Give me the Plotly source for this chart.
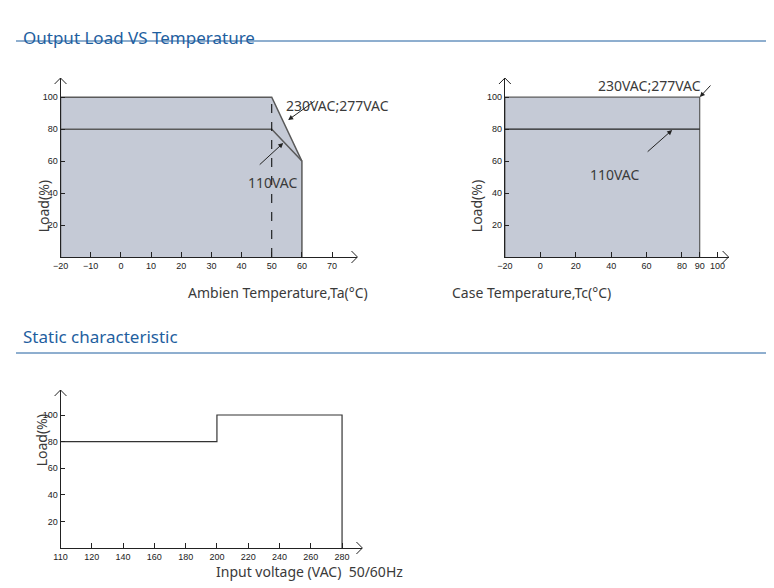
import plotly.graph_objects as go

# Output load vs ambient temperature (chart 1)
ta_temp = [-20, -20, 50, 60, 60]
ta_load_230 = [0, 100, 100, 60, 0]
ta_110_temp = [-20, 50, 60]
ta_110_load = [80, 80, 60]

# Output load vs case temperature (chart 2)
tc_temp = [-20, -20, 90, 90]
tc_load_230 = [0, 100, 100, 0]
tc_110_temp = [-20, 90]
tc_110_load = [80, 80]

# Static characteristic (chart 3); axis origin is the 110VAC point
vin = [100, 200, 200, 280, 280]
vin_load = [80, 80, 100, 100, 0]
vin_ticks = [100, 120, 140, 160, 180, 200, 220, 240, 260, 280]
vin_ticktext = ["110", "120", "140", "160", "180", "200", "220", "240", "260", "280"]

ta_ticks = [-20, -10, 0, 10, 20, 30, 40, 50, 60, 70]
tc_ticks = [-20, 0, 20, 40, 60, 80, 90, 100]
load_ticks = [20, 40, 60, 80, 100]

W, H = 774, 588
def px(x): return x / W
def py(y): return 1 - y / H

FILL = "#c5cad6"
LINE = "#5a5a5a"
BLUE = "#1f5f9f"
TXT = "#3a3a3a"

fig = go.Figure()
fig.add_trace(go.Scatter(x=ta_temp, y=ta_load_230, fill="toself", fillcolor=FILL,
                         line=dict(color=LINE, width=1.5), mode="lines", xaxis="x", yaxis="y"))
fig.add_trace(go.Scatter(x=ta_110_temp, y=ta_110_load, line=dict(color=LINE, width=1.5),
                         mode="lines", xaxis="x", yaxis="y"))
fig.add_trace(go.Scatter(x=[50, 50], y=[0, 100], line=dict(color="black", width=1, dash="dash"),
                         mode="lines", xaxis="x", yaxis="y"))
fig.add_trace(go.Scatter(x=tc_temp, y=tc_load_230, fill="toself", fillcolor=FILL,
                         line=dict(color=LINE, width=1.2), mode="lines", xaxis="x2", yaxis="y2"))
fig.add_trace(go.Scatter(x=tc_110_temp, y=tc_110_load, line=dict(color="#222", width=1.2),
                         mode="lines", xaxis="x2", yaxis="y2"))
fig.add_trace(go.Scatter(x=vin, y=vin_load, line=dict(color="#333", width=1.2),
                         mode="lines", xaxis="x3", yaxis="y3"))

tickfont = dict(family="Liberation Sans", size=9, color="#222")
def xax(dom, rng, ticks, anchor, text=None):
    d = dict(domain=dom, range=rng, tickvals=ticks, showgrid=False, zeroline=False,
             showline=True, linecolor="#222", linewidth=1, ticks="inside", ticklen=5,
             tickcolor="#222", tickfont=tickfont, anchor=anchor, fixedrange=True)
    if text:
        d["ticktext"] = text
    return d
def yax(dom, rng, anchor):
    return dict(domain=dom, range=rng, tickvals=load_ticks, showgrid=False, zeroline=False,
                showline=True, linecolor="#222", linewidth=1, ticks="inside", ticklen=4,
                tickcolor="#222", tickfont=tickfont, anchor=anchor, fixedrange=True)

fig.update_layout(
    width=W, height=H, margin=dict(l=0, r=0, t=0, b=0), showlegend=False,
    plot_bgcolor="rgba(0,0,0,0)", paper_bgcolor="white",
    xaxis=xax([px(45), px(345)], [-20, 78.4], ta_ticks, "y"),
    yaxis=yax([py(249), py(70)], [0, 112], "x"),
    xaxis2=xax([px(494), px(720)], [-20, 106.3], tc_ticks, "y2"),
    yaxis2=yax([py(249), py(70)], [0, 112], "x2"),
    xaxis3=xax([px(45), px(350)], [100, 293], vin_ticks, "y3", vin_ticktext),
    yaxis3=yax([py(540), py(382)], [0, 118.8], "x3"),
)

shapes = []
def chevron(x, y, d):
    # open arrowhead at pixel (x, y), d = 'right' or 'up'
    if d == "right":
        p = f"M {px(x-6)},{py(y-6)} L {px(x)},{py(y)} L {px(x-6)},{py(y+6)}"
    else:
        p = f"M {px(x-6)},{py(y+6)} L {px(x)},{py(y)} L {px(x+6)},{py(y+6)}"
    shapes.append(dict(type="path", path=p, xref="paper", yref="paper",
                       line=dict(color="#222", width=1)))
chevron(345, 249, "right"); chevron(45, 70, "up")
chevron(720, 249, "right"); chevron(494, 70, "up")
chevron(350, 540, "right"); chevron(45, 382, "up")
for y in (33, 345):
    shapes.append(dict(type="line", xref="paper", yref="paper", x0=0, x1=1, y0=py(y), y1=py(y),
                       line=dict(color=BLUE, width=1)))
fig.update_layout(shapes=shapes)

lab = dict(family="Noto Sans", size=14, color=TXT)
ann = [
    dict(x=px(5), y=py(16), text="Output Load VS Temperature", xanchor="left",
         font=dict(family="Noto Sans", size=17, color=BLUE)),
    dict(x=px(5), y=py(328), text="Static characteristic", xanchor="left",
         font=dict(family="Noto Sans", size=17, color=BLUE)),
    dict(x=px(172), y=py(284), text="Ambien Temperature,Ta(°C)", font=lab),
    dict(x=px(603), y=py(284), text="Case Temperature,Tc(°C)", font=lab),
    dict(x=px(200), y=py(575), text="Input voltage (VAC)  50/60Hz", font=lab),
    dict(x=px(16), y=py(170), text="Load(%)", textangle=-90, font=lab),
    dict(x=px(465), y=py(170), text="Load(%)", textangle=-90, font=lab),
    dict(x=px(14), y=py(460), text="Load(%)", textangle=-90, font=lab),
    dict(x=px(325), y=py(86), text="230VAC;277VAC", font=lab),
    dict(x=px(232), y=py(163), text="110VAC", font=lab),
    dict(x=px(694), y=py(66), text="230VAC;277VAC", font=lab),
    dict(x=px(633), y=py(155), text="110VAC", font=lab),
]
for a in ann:
    a.update(xref="paper", yref="paper", showarrow=False)
arrows = [((303, 92), (275, 112)), ((245, 158), (270, 135)),
          ((703, 76), (691, 89)), ((637, 145), (663, 122))]
for (x0, y0), (x1, y1) in arrows:
    ann.append(dict(xref="paper", yref="paper", x=px(x1), y=py(y1), ax=x0 - x1, ay=y0 - y1,
                    axref="pixel", ayref="pixel", text="", showarrow=True,
                    arrowhead=2, arrowsize=1, arrowwidth=1, arrowcolor="#222"))
fig.update_layout(annotations=ann)

fig.write_html("out.html")
